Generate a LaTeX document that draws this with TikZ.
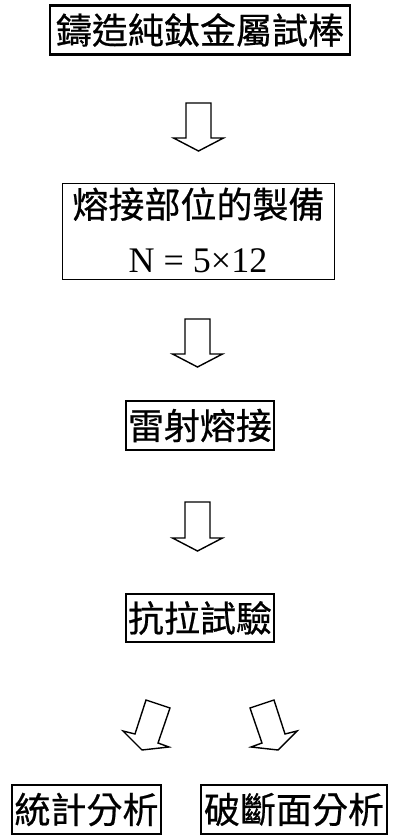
\documentclass[tikz,border=0pt]{standalone}
\usepackage{fontspec}
\setmainfont{Liberation Serif}
\newfontfamily\cjk[RawFeature={embolden=0.6}]{Noto Sans CJK TC}
\begin{document}
\begin{tikzpicture}[x=1pt,y=-1pt,
  box/.style={draw, line width=2.1pt, inner sep=0pt, font=\cjk\fontsize{36}{40}\selectfont},
  thinbox/.style={draw, line width=1.4pt, inner sep=0pt},
  blk/.style={draw, line width=1.4pt, fill=white, line join=miter}]
\useasboundingbox (0,0) rectangle (393,837);
% boxes
\node[box, minimum width=300pt, minimum height=49pt] (b1) at (200,30) {鑄造純鈦金屬試棒};
\node[thinbox, minimum width=272pt, minimum height=96pt] (b2) at (198.5,231.5) {};
\node[anchor=base, inner sep=0pt, font=\cjk\fontsize{36}{40}\selectfont] (t2a) at (198.5,218) {熔接部位的製備};
\node[anchor=base, inner sep=0pt, font=\fontsize{36}{40}\selectfont] (t2b) at (198,272) {N = 5×12};
\node[box, minimum width=148pt, minimum height=49pt] (b3) at (200,425.5) {雷射熔接};
\node[box, minimum width=148pt, minimum height=48pt] (b4) at (200,618) {抗拉試驗};
\node[box, minimum width=149pt, minimum height=49pt] (b5) at (86.5,809.5) {統計分析};
\node[box, minimum width=186pt, minimum height=49pt] (b6) at (294,809.5) {破斷面分析};
% block arrows
\draw[blk] (198.5,103) ++(-12.5,0) -- ++(25,0) -- ++(0,35) -- ++(12.5,0) -- ++(-25,13) -- ++(-25,-13) -- ++(12.5,0) -- cycle;
\draw[blk] (197.5,319) ++(-12.5,0) -- ++(25,0) -- ++(0,35) -- ++(12.5,0) -- ++(-25,13) -- ++(-25,-13) -- ++(12.5,0) -- cycle;
\draw[blk] (197.5,502) ++(-12.5,0) -- ++(25,0) -- ++(0,36) -- ++(12.5,0) -- ++(-25,13) -- ++(-25,-13) -- ++(12.5,0) -- cycle;
\draw[blk] (146,700) -- (170,708) -- (158,743) -- (169,747) -- (142,750) -- (123,731) -- (135,734) -- cycle;
\draw[blk] (274,700) -- (250,708) -- (262,743) -- (251,747) -- (278,750) -- (297,731) -- (285,734) -- cycle;
\end{tikzpicture}
\end{document}
